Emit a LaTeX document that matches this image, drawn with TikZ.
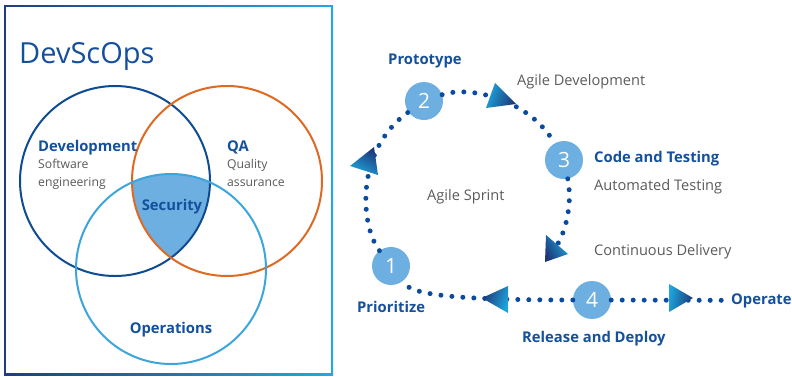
\documentclass[tikz,border=0pt]{standalone}
\usepackage{fontspec}
\setmainfont{Open Sans}
\usepackage{tikz}
\usetikzlibrary{calc}
\definecolor{framedark}{RGB}{35,60,125}
\definecolor{framelight}{RGB}{30,170,230}
\definecolor{textblue}{RGB}{20,80,155}
\definecolor{textgray}{RGB}{90,90,90}
\definecolor{devblue}{RGB}{15,75,145}
\definecolor{qaorange}{RGB}{222,105,35}
\definecolor{opsblue}{RGB}{60,165,220}
\definecolor{secfill}{RGB}{110,175,225}
\definecolor{dotblue}{RGB}{10,75,160}
\definecolor{arrowdark}{RGB}{30,55,120}
\definecolor{arrowlight}{RGB}{30,165,220}
\tikzset{
  headlabel/.style={anchor=base west, inner sep=0, text=textblue, font=\fontsize{14.8}{17}\selectfont\bfseries},
  sublabel/.style={anchor=base west, inner sep=0, text=textgray, font=\fontsize{12.2}{15}\selectfont},
  steplabel/.style={anchor=base west, inner sep=0, text=textgray, font=\fontsize{14.6}{17}\selectfont},
  stepcircle/.style={circle, fill=secfill, minimum size=38pt, inner sep=0, text=white, font=\fontsize{21}{24}\selectfont},
  dotline/.style={draw=dotblue, line width=5pt, line cap=round, dash pattern=on 0pt off 11pt},
  arrowtri/.style={left color=arrowdark, right color=arrowlight}
}

\begin{document}
\begin{tikzpicture}[x=1pt,y=-1pt]
  \useasboundingbox (0,0) rectangle (792,376);
  % frame
  \shade[left color=framedark, right color=framelight] (4,5) rectangle (333,375);
  \fill[white] (6.3,7.3) rectangle (330.7,372.7);
  \node[anchor=base west, inner sep=0, text=textblue, font=\fontsize{29}{32}\selectfont] (title) at (19,63) {DevScOps};
  % venn
  \def\r{95pt}
  \coordinate (cd) at (115,181);
  \coordinate (cq) at (227,181);
  \coordinate (co) at (171,269);
  \begin{scope}
    \clip (cd) circle (\r);
    \clip (cq) circle (\r);
    \fill[secfill] (co) circle (\r);
  \end{scope}
  \draw[devblue, line width=2pt] (cd) circle (\r);
  \draw[qaorange, line width=2pt] (cq) circle (\r);
  \draw[opsblue, line width=2pt] (co) circle (\r);
  \node[headlabel] (dev) at (38,151) {Development};
  \node[sublabel] (dev1) at (38,168) {Software};
  \node[sublabel] (dev2) at (38,186) {engineering};
  \node[headlabel] (qa) at (227,151) {QA};
  \node[sublabel] (qa1) at (227,168) {Quality};
  \node[sublabel] (qa2) at (227,186) {assurance};
  \node[headlabel, anchor=base] (sec) at (172,210.5) {Security};
  \node[headlabel, anchor=base] (ops) at (171,333) {Operations};
  % sprint cycle
  \node[stepcircle] (s1) at (391,266) {1};
  \node[stepcircle] (s2) at (424,101) {2};
  \node[stepcircle] (s3) at (564,160) {3};
  \node[stepcircle] (s4) at (592,300) {4};
  \node[headlabel] (op) at (731,304) {Operate};
  \coordinate (s3end) at (554,250);
  \draw[dotline] (s1) .. controls (360,225) and (355,150) .. (s2);
  \draw[dotline] (s2) .. controls (470,85) and (530,100) .. (s3);
  \draw[dotline] (s3) .. controls (572,200) and (568,230) .. (s3end);
  \draw[dotline] (s4) .. controls (430,300) and (410,292) .. (s1);
  \draw[dotline] (s4) -- (op);
  \shade[arrowtri, shading angle=-30] (350,166) -- (374,147) -- (378,175) -- cycle;
  \shade[arrowtri, shading angle=-110] (495,83) -- (486,108) -- (516,104) -- cycle;
  \shade[arrowtri, shading angle=120] (546,235) -- (545,262) -- (568,254) -- cycle;
  \shade[arrowtri, shading angle=70] (482,298) -- (508,286) -- (508,313) -- cycle;
  \shade[arrowtri, shading angle=-100] (669,284) -- (669,312) -- (693,298) -- cycle;
  \node[headlabel] (proto) at (388,64) {Prototype};
  \node[steplabel] (agdev) at (517,85) {Agile Development};
  \node[headlabel] (code) at (594,162) {Code and Testing};
  \node[steplabel] (auto) at (594,190) {Automated Testing};
  \node[steplabel] (sprint) at (427,200) {Agile Sprint};
  \node[steplabel] (deliv) at (594,255) {Continuous Delivery};
  \node[headlabel] (prio) at (357,312) {Prioritize};
  \node[headlabel] (rel) at (522,342) {Release and Deploy};
\end{tikzpicture}
\end{document}
